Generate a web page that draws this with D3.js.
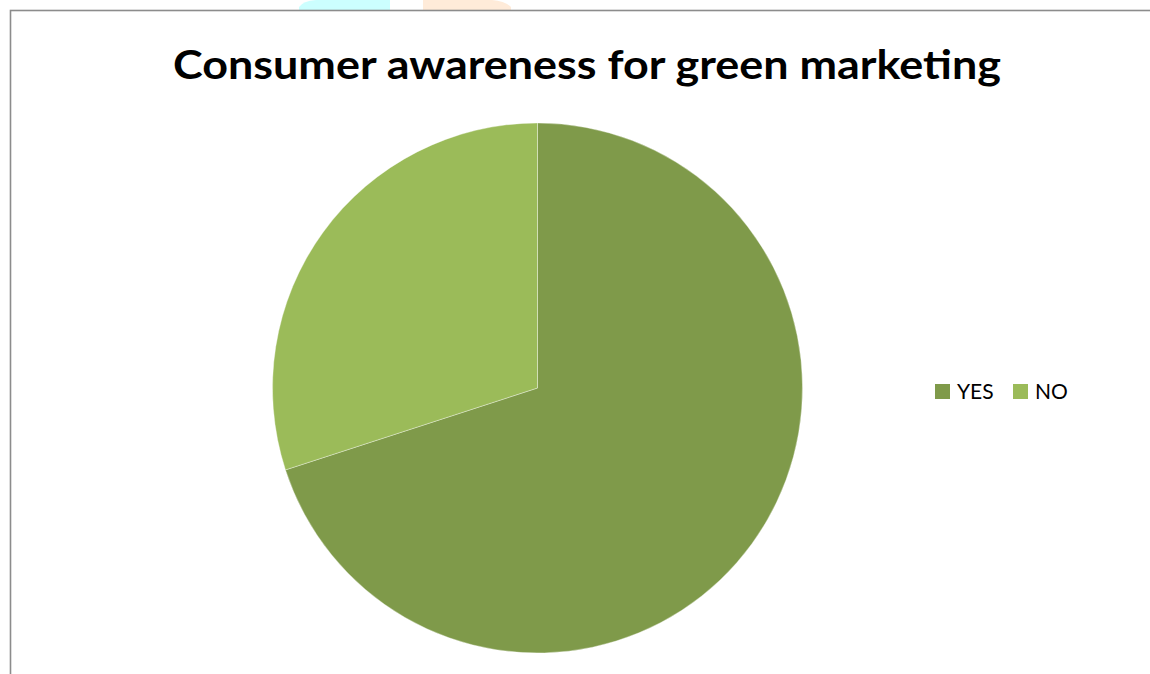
<!DOCTYPE html>
<html>
<head>
<meta charset="utf-8">
<script src="https://cdn.jsdelivr.net/npm/d3@7"></script>
<style>
  html, body { margin: 0; padding: 0; background: #ffffff; }
  svg { display: block; }
</style>
</head>
<body>
<svg id="chart" width="1150" height="674"></svg>
<script>
// Survey responses: share of consumers aware of green marketing
const categories = ["YES", "NO"];
const values = [70, 30];
const colors = ["#7F9A4A", "#9BBB59"];
const title = "Consumer awareness for green marketing";

const svg = d3.select("#chart");
const W = 1150, H = 674;

// faint coloured shapes peeking above the chart frame
svg.append("path")
  .attr("d", "M299,10 L299,7 Q303,1 316,0 L390,0 L390,10 Z")
  .attr("fill", "#CCFFFF");
svg.append("path")
  .attr("d", "M423,10 L423,0 L492,0 Q505,1 511,7 L511,10 Z")
  .attr("fill", "#FFEBD9");

// chart frame (top and left edges visible)
svg.append("rect")
  .attr("x", 10.5).attr("y", 10.5)
  .attr("width", W + 20).attr("height", H + 20)
  .attr("fill", "#ffffff")
  .attr("stroke", "#8C8C8C")
  .attr("stroke-width", 1.6);

// title
const t = svg.append("text")
  .attr("x", 587).attr("y", 79)
  .attr("text-anchor", "middle")
  .attr("font-family", "Lato, 'Open Sans', sans-serif")
  .attr("font-weight", "bold")
  .attr("font-size", 40)
  .attr("fill", "#000")
  .text(title);
const tw = t.node().getComputedTextLength();
if (Math.abs(tw - 828) > 4) {
  t.attr("textLength", 828).attr("lengthAdjust", "spacingAndGlyphs");
}

// pie
const cx = 537.5, cy = 388, r = 265;
const pie = d3.pie().sort(null).value(d => d.value);
const arc = d3.arc().innerRadius(0).outerRadius(r);
const data = categories.map((c, i) => ({ name: c, value: values[i] }));
const color = d3.scaleOrdinal().domain(categories).range(colors);

const g = svg.append("g").attr("transform", `translate(${cx},${cy})`);
g.selectAll("path.slice")
  .data(pie(data))
  .join("path")
  .attr("class", "slice")
  .attr("d", arc)
  .attr("fill", d => color(d.data.name))
  .attr("stroke", "rgba(255,255,255,0.45)")
  .attr("stroke-width", 0.8);

// legend
const legendX = [935, 1013];
const lg = svg.append("g");
const items = lg.selectAll("g.item")
  .data(categories)
  .join("g")
  .attr("class", "item")
  .attr("transform", (d, i) => `translate(${legendX[i]},384)`);
items.append("rect")
  .attr("width", 15).attr("height", 15)
  .attr("fill", d => color(d));
items.append("text")
  .attr("x", 22).attr("y", 15)
  .attr("font-family", "Lato, 'Open Sans', sans-serif")
  .attr("font-size", 21)
  .attr("fill", "#000")
  .text(d => d);
</script>
</body>
</html>
